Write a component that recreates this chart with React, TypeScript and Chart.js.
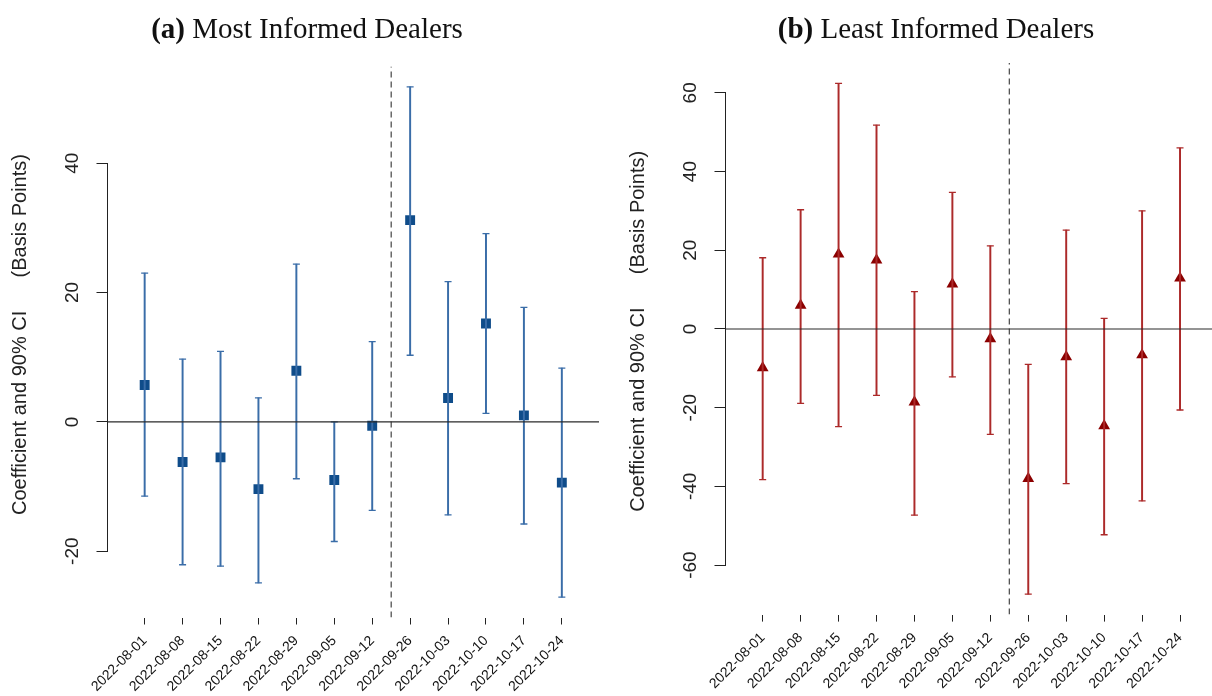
import React, { useEffect, useRef } from 'react';
import { Chart, registerables } from 'chart.js';

Chart.register(...registerables);

// ---------- data ----------
const weekLabels = [
  '2022-08-01', '2022-08-08', '2022-08-15', '2022-08-22', '2022-08-29', '2022-09-05',
  '2022-09-12', '2022-09-26', '2022-10-03', '2022-10-10', '2022-10-17', '2022-10-24',
];
const breakAfterWeek = '2022-09-12';

// (a) Most informed dealers
const mostCoef = [5.7, -6.2, -5.5, -10.4, 7.9, -9.0, -0.6, 31.2, 3.7, 15.2, 1.0, -9.4];
const mostUpper = [23.0, 9.7, 10.9, 3.7, 24.4, 0.0, 12.4, 51.8, 21.7, 29.1, 17.7, 8.3];
const mostLower = [-11.5, -22.1, -22.3, -24.9, -8.8, -18.5, -13.7, 10.3, -14.4, 1.3, -15.8, -27.1];
const mostYTicks = [-20, 0, 20, 40];

// (b) Least informed dealers
const leastCoef = [-9.9, 6.0, 19.0, 17.5, -18.6, 11.4, -2.5, -38.0, -7.1, -24.6, -6.6, 12.9];
const leastUpper = [18.1, 30.3, 62.4, 51.8, 9.5, 34.7, 21.1, -9.0, 25.1, 2.7, 30.0, 46.0];
const leastLower = [-38.3, -18.9, -24.8, -16.9, -47.3, -12.2, -26.8, -67.4, -39.3, -52.3, -43.7, -20.6];
const leastYTicks = [-60, -40, -20, 0, 20, 40, 60];

const yAxisTitle = 'Coefficient and 90% CI      (Basis Points)';

const SANS = "'Liberation Sans', Arial, sans-serif";

type PanelProps = {
  coef: number[];
  upper: number[];
  lower: number[];
  yTicks: number[];
  markerStyle: 'rect' | 'triangle';
  markerRadius: number;
  markerColor: string;
  barColor: string;
  left: number;
  padTop: number;
  xAxisHeight: number;
};

const rAxisPlugin = {
  id: 'rAxis',
  afterDraw(chart: any) {
    const { ctx, chartArea, scales } = chart;
    const y = scales.y;
    const vals: number[] = y.ticks.map((t: any) => t.value);
    const top = y.getPixelForValue(Math.max(...vals));
    const bottom = y.getPixelForValue(Math.min(...vals));
    ctx.save();
    // axis line spanning first to last tick (R style)
    ctx.strokeStyle = '#222';
    ctx.lineWidth = 1;
    ctx.beginPath();
    ctx.moveTo(chartArea.left, top);
    ctx.lineTo(chartArea.left, bottom);
    ctx.stroke();
    // tick labels parallel to the axis
    ctx.fillStyle = '#222';
    ctx.font = `19px ${SANS}`;
    ctx.textAlign = 'center';
    ctx.textBaseline = 'middle';
    for (const v of vals) {
      ctx.save();
      ctx.translate(chartArea.left - 35, y.getPixelForValue(v));
      ctx.rotate(-Math.PI / 2);
      ctx.fillText(String(v), 0, 0);
      ctx.restore();
    }
    // axis title
    ctx.font = `20px ${SANS}`;
    ctx.save();
    ctx.translate(y.left + 20, (chartArea.top + chartArea.bottom) / 2 - 7.5);
    ctx.rotate(-Math.PI / 2);
    ctx.fillText(yAxisTitle, 0, 0);
    ctx.restore();
    ctx.restore();
  },
};

function Panel(p: PanelProps) {
  const ref = useRef<HTMLCanvasElement>(null);
  useEffect(() => {
    if (!ref.current) return;
    const positions = weekLabels.map((_, i) => i + 1);
    const breakX = weekLabels.indexOf(breakAfterWeek) + 1.5;
    const xPad = 0.04 * positions.length;
    const xMin = 0.5 - xPad;
    const xMax = positions.length + 0.5 + xPad;
    const lo = Math.min(...p.lower);
    const hi = Math.max(...p.upper);
    const yPad = 0.04 * (hi - lo);
    const yMin = lo - yPad;
    const yMax = hi + yPad;

    const chart = new Chart(ref.current, {
      type: 'scatter',
      data: {
        datasets: [
          {
            type: 'line',
            data: [{ x: xMin, y: 0 }, { x: xMax, y: 0 }],
            borderColor: '#2a2a2a',
            borderWidth: 1.1,
            pointRadius: 0,
          } as any,
          {
            type: 'line',
            data: [{ x: breakX, y: yMin }, { x: breakX, y: yMax }],
            borderColor: '#333',
            borderWidth: 1.1,
            borderDash: [6, 4],
            pointRadius: 0,
          } as any,
          {
            type: 'bar',
            data: positions.map((x, i) => ({ x, y: [p.lower[i], p.upper[i]] })),
            backgroundColor: p.barColor,
            barThickness: 1.3,
            borderWidth: 0,
          } as any,
          {
            type: 'scatter',
            data: positions.map((x, i) => ({ x, y: p.upper[i] })),
            pointStyle: 'line',
            pointRadius: 3.5,
            borderColor: p.barColor,
            borderWidth: 1.3,
          } as any,
          {
            type: 'scatter',
            data: positions.map((x, i) => ({ x, y: p.lower[i] })),
            pointStyle: 'line',
            pointRadius: 3.5,
            borderColor: p.barColor,
            borderWidth: 1.3,
          } as any,
          {
            type: 'scatter',
            data: positions.map((x, i) => ({ x, y: p.coef[i] })),
            pointStyle: p.markerStyle,
            pointRadius: p.markerRadius,
            backgroundColor: p.markerColor,
            borderColor: p.markerColor,
            borderWidth: 0,
          } as any,
        ],
      },
      options: {
        animation: false,
        responsive: false,
        events: [],
        layout: { padding: { top: p.padTop, right: 2.5, left: 0, bottom: 0 } },
        plugins: {
          legend: { display: false },
          tooltip: { enabled: false },
          title: { display: false },
        },
        scales: {
          x: {
            type: 'linear',
            min: xMin,
            max: xMax,
            offset: false,
            afterBuildTicks: (s: any) => {
              s.ticks = positions.map((v) => ({ value: v }));
            },
            afterFit: (s: any) => {
              s.height = p.xAxisHeight;
            },
            ticks: {
              autoSkip: false,
              minRotation: 45,
              maxRotation: 45,
              padding: 8,
              color: '#111',
              font: { family: SANS, size: 14 },
              callback: (_v: any, i: number) => weekLabels[i],
            },
            grid: {
              display: true,
              offset: false,
              drawOnChartArea: false,
              drawTicks: true,
              tickLength: 7,
              tickColor: '#222',
              tickWidth: 1,
            },
            border: { display: false },
          },
          y: {
            type: 'linear',
            min: yMin,
            max: yMax,
            beginAtZero: false,
            afterBuildTicks: (s: any) => {
              s.ticks = p.yTicks.map((v) => ({ value: v }));
            },
            afterFit: (s: any) => {
              s.width = 107.5;
            },
            ticks: { display: false },
            grid: {
              display: true,
              offset: false,
              drawOnChartArea: false,
              drawTicks: true,
              tickLength: 11,
              tickColor: '#222',
              tickWidth: 1,
            },
            border: { display: false },
            title: { display: false },
          },
        },
      } as any,
      plugins: [rAxisPlugin],
    });
    return () => chart.destroy();
  }, []);
  return (
    <canvas
      ref={ref}
      width={606}
      height={696}
      style={{ position: 'absolute', left: p.left, top: 0, width: 606, height: 696 }}
    />
  );
}

const titleStyle: React.CSSProperties = {
  position: 'absolute',
  top: 14,
  width: 600,
  textAlign: 'center',
  fontFamily: "'Liberation Serif', 'Times New Roman', serif",
  fontSize: 29,
  lineHeight: '29px',
  color: '#111',
  whiteSpace: 'nowrap',
};

export default function App() {
  return (
    <div
      style={{
        position: 'fixed',
        left: 0,
        top: 0,
        width: 1212,
        height: 696,
        overflow: 'hidden',
        background: '#fff',
      }}
    >
      <Panel
        coef={mostCoef}
        upper={mostUpper}
        lower={mostLower}
        yTicks={mostYTicks}
        markerStyle="rect"
        markerRadius={7}
        markerColor="#0F4C8A"
        barColor="#3A6DA8"
        left={0}
        padTop={66.5}
        xAxisHeight={78.5}
      />
      <Panel
        coef={leastCoef}
        upper={leastUpper}
        lower={leastLower}
        yTicks={leastYTicks}
        markerStyle="triangle"
        markerRadius={6.8}
        markerColor="#8B0000"
        barColor="#AC2A2A"
        left={618}
        padTop={63}
        xAxisHeight={81.4}
      />
      <div style={{ ...titleStyle, left: 307 - 300 }}>
        <b>(a)</b> Most Informed Dealers
      </div>
      <div style={{ ...titleStyle, left: 936 - 300 }}>
        <b>(b)</b> Least Informed Dealers
      </div>
    </div>
  );
}
